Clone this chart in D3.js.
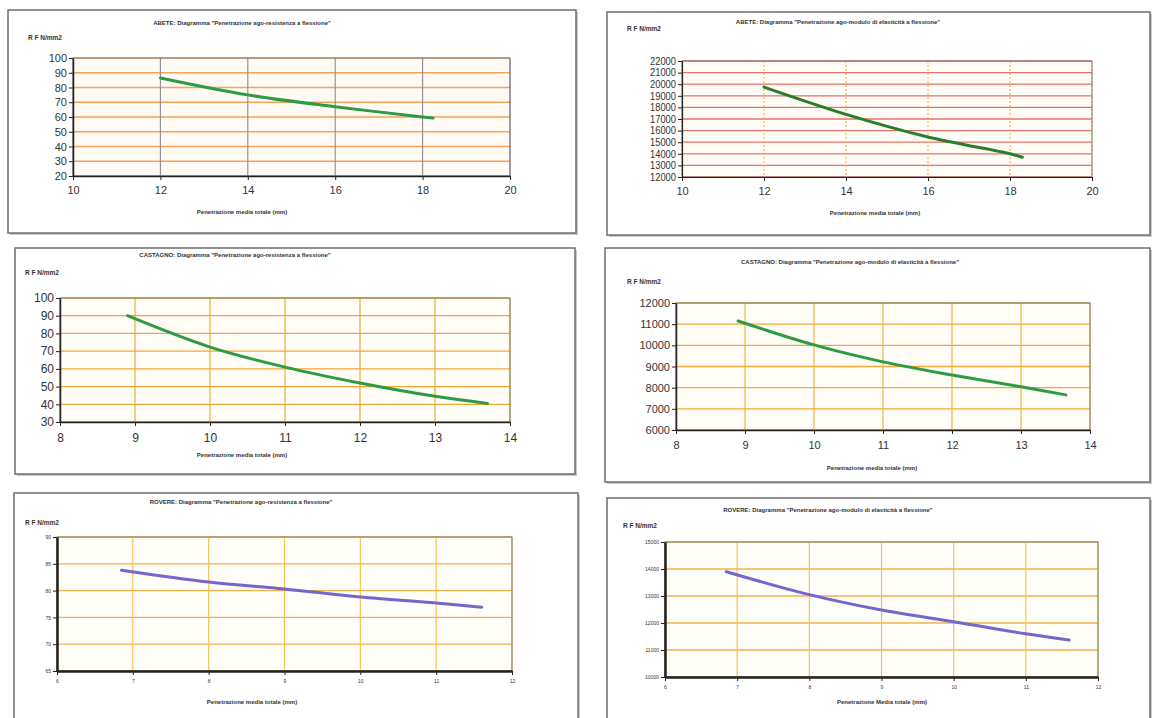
<!DOCTYPE html>
<html>
<head>
<meta charset="utf-8">
<script src="https://cdn.jsdelivr.net/npm/d3@7"></script>
<style>
body{margin:0;background:#fff;}
svg{display:block;font-family:'Liberation Sans',Arial,sans-serif;}
</style>
</head>
<body>
<svg id="chart" width="1155" height="718"></svg>
<script>
// ---- data ----
var abeteX      = [12, 14, 16, 18, 18.24];
var abeteRes    = [86.5, 75, 67, 60, 59.3];
var abeteModX   = [12, 14, 16, 18, 18.3];
var abeteMod    = [19750, 17400, 15450, 14000, 13700];

var castagnoX   = [8.9, 10, 11, 12, 13, 13.7];
var castagnoRes = [90, 72.3, 61, 52, 44.5, 40.5];
var castagnoModX= [8.9, 10, 11, 12, 13, 13.65];
var castagnoMod = [11150, 10020, 9220, 8600, 8040, 7660];

var rovereX     = [6.85, 8, 9, 10, 11, 11.6];
var rovereRes   = [83.8, 81.6, 80.3, 78.8, 77.7, 76.9];
var rovereMod   = [13900, 13050, 12480, 12050, 11600, 11370];

var abeteXTicks    = [10, 12, 14, 16, 18, 20];
var castagnoXTicks = [8, 9, 10, 11, 12, 13, 14];
var rovereXTicks   = [6, 7, 8, 9, 10, 11, 12];
var abeteResTicks  = [20, 30, 40, 50, 60, 70, 80, 90, 100];
var abeteModTicks  = [12000, 13000, 14000, 15000, 16000, 17000, 18000, 19000, 20000, 21000, 22000];
var castResTicks   = [30, 40, 50, 60, 70, 80, 90, 100];
var castModTicks   = [6000, 7000, 8000, 9000, 10000, 11000, 12000];
var rovResTicks    = [65, 70, 75, 80, 85, 90];
var rovModTicks    = [10000, 11000, 12000, 13000, 14000, 15000];

var titles = [
	'ABETE: Diagramma "Penetrazione ago-resistenza a flessione"',
	'ABETE: Diagramma "Penetrazione ago-modulo di elasticità a flessione"',
	'CASTAGNO: Diagramma "Penetrazione ago-resistenza a flessione"',
	'CASTAGNO: Diagramma "Penetrazione ago-modulo  di elasticità a flessione"',
	'ROVERE: Diagramma "Penetrazione ago-resistenza a flessione"',
	'ROVERE: Diagramma "Penetrazione ago-modulo di elasticità a flessione"'
];
var yLabel = 'R F N/mm2';
var xLabels = ['Penetrazione media totale (mm)', 'Penetrazione media totale (mm)',
	'Penetrazione media totale (mm)', 'Penetrazione media totale (mm)',
	'Penetrazione media totale (mm)', 'Penetrazione Media totale (mm)'];

// ---- panel layout ----
var panels = [
	{box:[8,10,568,223], plot:[73,58,510,176], xs:abeteX, ys:abeteRes, xt:abeteXTicks, yt:abeteResTicks,
	 titleX:242, titleY:25, ylx:28, yly:40, xlx:242, xly:214, tickFs:11, tickY:12, lineCol:'#2f9a45',
	 hGrid:'#f5a25a', vGrid:'#8c8c8c', bg:'#fffaf3', axisW:1.5},
	{box:[607,12,543,223], plot:[682,61,1092,177], xs:abeteModX, ys:abeteMod, xt:abeteXTicks, yt:abeteModTicks,
	 titleX:838, titleY:24, ylx:627, yly:31, xlx:875, xly:215, tickFs:11, tickY:12, lineCol:'#2a7d2a',
	 hGrid:'#e8706a', vGrid:'#f0b050', bg:'#fffdf6', axisW:1.2, vDash:'2,2', yFs:10},
	{box:[15,248,560,226], plot:[60,298,510,422], xs:castagnoX, ys:castagnoRes, xt:castagnoXTicks, yt:castResTicks,
	 titleX:235, titleY:257, ylx:25, yly:275, xlx:242, xly:457, tickFs:12, tickY:13, lineCol:'#2f9a45',
	 hGrid:'#f3a53a', vGrid:'#eaa628', bg:'#fffdf6', axisW:1.5},
	{box:[605,248,545,234], plot:[676,303,1090,430], xs:castagnoModX, ys:castagnoMod, xt:castagnoXTicks, yt:castModTicks,
	 titleX:850, titleY:264, ylx:627, yly:284, xlx:872, xly:470, tickFs:11, tickY:13, lineCol:'#2f9a45',
	 hGrid:'#f2a93a', vGrid:'#eeae3a', bg:'#fffdf6', axisW:1.5},
	{box:[14,493,564,228], plot:[57,537,512,671], xs:rovereX, ys:rovereRes, xt:rovereXTicks, yt:rovResTicks,
	 titleX:241, titleY:504, ylx:25, yly:525, xlx:252, xly:704, tickFs:5, tickY:10, lineCol:'#7466cc',
	 hGrid:'#f2b24a', vGrid:'#f0c24a', bg:'#fffdf8', axisW:2.5},
	{box:[607,498,543,223], plot:[665,542,1098,677], xs:rovereX, ys:rovereMod, xt:rovereXTicks, yt:rovModTicks,
	 titleX:828, titleY:512, ylx:623, yly:528, xlx:882, xly:704, tickFs:5, tickY:10, lineCol:'#7466cc',
	 hGrid:'#f2b24a', vGrid:'#f0c24a', bg:'#fffdf8', axisW:2.5}
];

var svg = d3.select('#chart');

panels.forEach(function(p, i){
	var g = svg.append('g');

	// frame
	g.append('rect')
		.attr('x', p.box[0]+2).attr('y', p.box[1]+2)
		.attr('width', p.box[2]).attr('height', p.box[3])
		.attr('fill', '#c8c8c8');
	g.append('rect')
		.attr('x', p.box[0]).attr('y', p.box[1])
		.attr('width', p.box[2]).attr('height', p.box[3])
		.attr('fill', '#fff')
		.attr('stroke', '#6e6e6e')
		.attr('stroke-width', 1.5);

	var x = d3.scaleLinear()
		.domain(d3.extent(p.xt))
		.range([p.plot[0], p.plot[2]]);
	var y = d3.scaleLinear()
		.domain(d3.extent(p.yt))
		.range([p.plot[3], p.plot[1]]);

	g.append('rect')
		.attr('x', p.plot[0]).attr('y', p.plot[1])
		.attr('width', p.plot[2]-p.plot[0]).attr('height', p.plot[3]-p.plot[1])
		.attr('fill', p.bg);

	// gridlines
	g.selectAll('.hg')
		.data(p.yt)
		.enter()
		.append('line')
		.attr('x1', p.plot[0]).attr('x2', p.plot[2])
		.attr('y1', function(d){ return y(d) }).attr('y2', function(d){ return y(d) })
		.attr('stroke', p.hGrid)
		.attr('stroke-width', 1.3);
	g.selectAll('.vg')
		.data(p.xt)
		.enter()
		.append('line')
		.attr('y1', p.plot[1]).attr('y2', p.plot[3])
		.attr('x1', function(d){ return x(d) }).attr('x2', function(d){ return x(d) })
		.attr('stroke', p.vGrid)
		.attr('stroke-width', 1.1)
		.attr('stroke-dasharray', p.vDash || null);

	// plot border
	g.append('rect')
		.attr('x', p.plot[0]).attr('y', p.plot[1])
		.attr('width', p.plot[2]-p.plot[0]).attr('height', p.plot[3]-p.plot[1])
		.attr('fill', 'none')
		.attr('stroke', '#7a7a7a')
		.attr('stroke-width', 1);

	// axes
	var xAxis = g.append('g')
		.attr('transform', 'translate(0,' + p.plot[3] + ')')
		.call(d3.axisBottom(x).tickValues(p.xt).tickSize(4).tickSizeOuter(0).tickPadding(p.tickY-6).tickFormat(d3.format('d')));
	var yAxis = g.append('g')
		.attr('transform', 'translate(' + p.plot[0] + ',0)')
		.call(d3.axisLeft(y).tickValues(p.yt).tickSize(4).tickSizeOuter(0).tickPadding(2).tickFormat(d3.format('d')));
	[xAxis, yAxis].forEach(function(a){
		a.select('.domain').attr('stroke', '#222').attr('stroke-width', p.axisW);
		a.selectAll('line').attr('stroke', '#222');
		a.selectAll('text')
			.attr('fill', '#333')
			.style('font-size', p.tickFs + 'px');
	});
	if (p.yFs) yAxis.selectAll('text').style('font-size', p.yFs + 'px').attr('textLength', 26).attr('lengthAdjust', 'spacingAndGlyphs');

	// curve
	var pts = p.xs.map(function(d, k){ return [d, p.ys[k]] });
	var lineGen = d3.line()
		.x(function(d){ return x(d[0]) })
		.y(function(d){ return y(d[1]) })
		.curve(d3.curveCatmullRom.alpha(0.5));
	g.append('path')
		.attr('d', lineGen(pts))
		.attr('fill', 'none')
		.attr('stroke', p.lineCol)
		.attr('stroke-width', 3)
		.attr('stroke-linecap', 'round');

	// texts
	g.append('text')
		.attr('x', p.titleX).attr('y', p.titleY)
		.style('text-anchor', 'middle')
		.style('font-size', '6px')
		.style('font-weight', 'bold')
		.attr('fill', '#333')
		.text(titles[i]);
	g.append('text')
		.attr('x', p.ylx).attr('y', p.yly)
		.style('font-size', '6.5px')
		.style('font-weight', 'bold')
		.attr('fill', '#333')
		.text(yLabel);
	g.append('text')
		.attr('x', p.xlx).attr('y', p.xly)
		.style('text-anchor', 'middle')
		.style('font-size', '6px')
		.style('font-weight', 'bold')
		.attr('fill', '#333')
		.text(xLabels[i]);
});
</script>
</body>
</html>
